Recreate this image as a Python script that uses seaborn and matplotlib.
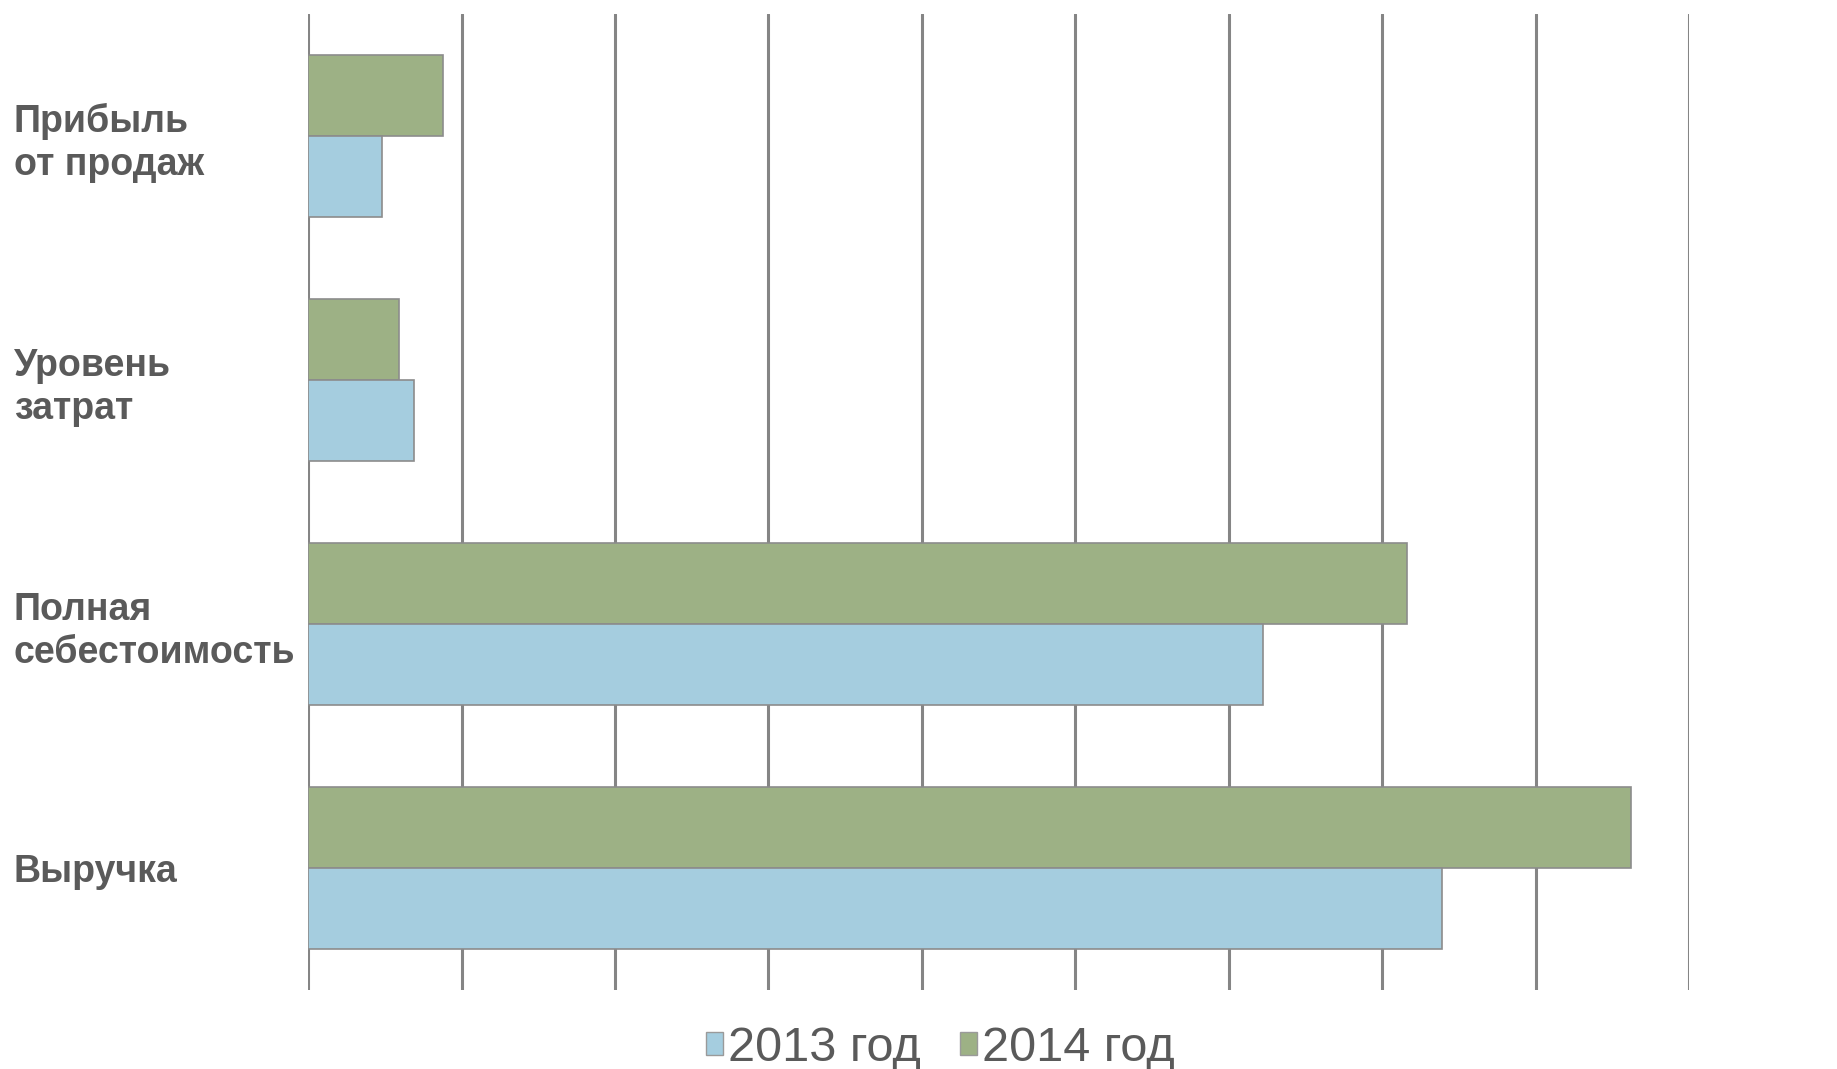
import numpy as np
import pandas as pd
import matplotlib
matplotlib.use("Agg")
import matplotlib.pyplot as plt
import seaborn as sns
from matplotlib.patches import Patch

# data (units = grid steps)
categories = ["Прибыль\nот продаж", "Уровень\nзатрат", "Полная\nсебестоимость", "Выручка"]
series_names = ["2013 год", "2014 год"]
values_2013 = [0.48, 0.69, 6.22, 7.39]
values_2014 = [0.88, 0.59, 7.16, 8.62]

colors = {"2013 год": "#a5cddf", "2014 год": "#9db185"}
text_color = "#5a5a5a"

df = pd.DataFrame({
    "category": categories * 2,
    "year": [series_names[0]] * 4 + [series_names[1]] * 4,
    "value": values_2013 + values_2014,
})

sns.set_style("white")
plt.rcParams["font.family"] = ["Liberation Sans", "DejaVu Sans"]

fig = plt.figure(figsize=(18.37, 10.69), dpi=100)
fig.patch.set_facecolor("white")
ax = fig.add_axes([0.1677, 0.074, 0.9195 - 0.1677, 0.913])

# 2014 above 2013 in each group
sns.barplot(data=df, x="value", y="category", hue="year", order=categories,
            hue_order=["2014 год", "2013 год"], palette=colors, saturation=1,
            orient="h", width=0.665, edgecolor="#8c8c8c", linewidth=1.2, ax=ax,
            legend=False, zorder=3)

ax.set_xlim(0, 9)
ax.set_ylim(3.5, -0.5)
ax.set_xticks(np.arange(0, 10))
ax.set_xticklabels([])
ax.grid(axis="x", color="#858585", linewidth=2.2, zorder=0)
ax.grid(axis="y", visible=False)
ax.set_axisbelow(True)
for s in ax.spines.values():
    s.set_visible(False)
ax.tick_params(axis="both", length=0)
ax.tick_params(axis="y", pad=212)
for lbl in ax.get_yticklabels():
    lbl.set_ha("left")
    lbl.set_fontweight("bold")
    lbl.set_fontsize(27)
    lbl.set_color(text_color)
    lbl.set_linespacing(1.25)
ax.set_xlabel("")
ax.set_ylabel("")

handles = [Patch(facecolor=colors[n], edgecolor="#9a9a9a") for n in series_names]
fig.legend(handles, series_names, loc="lower center", bbox_to_anchor=(0.512, -0.043),
           ncol=2, frameon=False, fontsize=35, labelcolor=text_color,
           handlelength=0.35, handleheight=0.35, handletextpad=0.1, columnspacing=0.8)

fig.savefig("out.png", dpi=100, facecolor="white")
